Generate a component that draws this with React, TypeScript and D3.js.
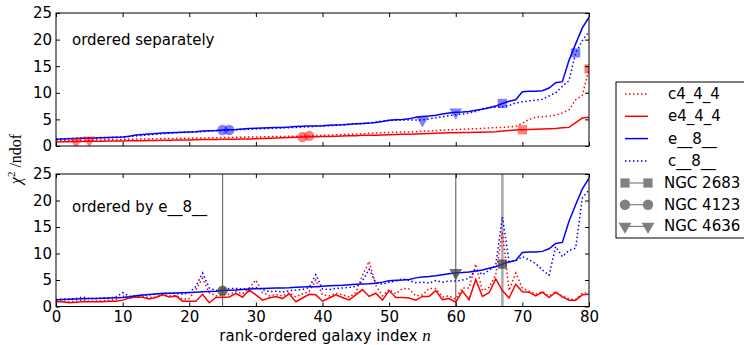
import { useEffect, useRef } from "react";
import {
  select,
  scaleLinear,
  line,
  axisLeft,
  axisRight,
  axisTop,
  axisBottom,
  symbol,
  symbolSquare,
  symbolCircle,
  symbolTriangle,
} from "d3";

// chi^2/ndof per galaxy, galaxies ranked by e__8__
const e8 = [
  1.25, 1.3, 1.35, 1.4, 1.45, 1.5, 1.5, 1.55, 1.6, 1.65,
  1.7, 1.85, 2.05, 2.15, 2.25, 2.35, 2.45, 2.5, 2.55, 2.6,
  2.65, 2.7, 2.8, 2.85, 2.9, 3.0, 3.05, 3.1, 3.2, 3.3,
  3.35, 3.4, 3.45, 3.5, 3.5, 3.55, 3.65, 3.7, 3.75, 3.75,
  3.8, 3.9, 3.95, 4.0, 4.1, 4.2, 4.25, 4.3, 4.4, 4.6,
  4.85, 4.95, 5.0, 5.1, 5.4, 5.55, 5.65, 5.8, 6.0, 6.2,
  6.35, 6.4, 6.5, 6.7, 6.9, 7.2, 7.5, 8.0, 8.4, 8.7,
  10.2, 10.3, 10.3, 10.4, 10.9, 11.9, 12.1, 16.1, 19.2, 22.2, 24.2,
];
const e4ByE8 = [
  0.9, 0.9, 0.7, 0.8, 0.9, 0.9, 0.9, 0.9, 1.0, 1.0,
  1.2, 1.6, 1.8, 1.75, 1.4, 1.7, 2.2, 1.8, 2.0, 1.0,
  1.0, 1.0, 2.3, 0.7, 1.7, 1.75, 1.8, 2.5, 1.75, 3.1,
  2.2, 1.2, 1.6, 1.9, 1.5, 2.4, 0.9, 1.6, 2.3, 2.2,
  1.0, 1.6, 2.2, 1.7, 1.25, 2.2, 3.2, 1.9, 2.5, 1.2,
  3.0, 1.7, 1.7, 1.6, 1.2, 1.9, 1.9, 3.0, 1.3, 1.5,
  0.8, 2.9, 1.3, 5.1, 1.9, 2.6, 5.2, 3.0, 1.6, 4.2,
  2.8, 2.7, 2.0, 2.7, 1.7, 2.7, 1.8, 1.2, 1.2, 2.2, 2.3,
];
const c4ByE8 = [
  1.1, 1.0, 0.9, 1.0, 1.2, 1.0, 1.0, 1.1, 1.2, 1.3,
  2.0, 1.6, 1.8, 1.9, 1.7, 1.8, 2.3, 2.0, 2.1, 1.4,
  1.5, 3.2, 5.3, 2.6, 2.0, 2.2, 2.3, 2.8, 2.4, 3.5,
  5.0, 2.6, 2.0, 2.3, 2.0, 2.6, 1.8, 2.4, 2.8, 5.0,
  2.2, 2.0, 2.5, 2.2, 1.8, 2.6, 5.9, 8.5, 4.0, 2.0,
  3.2, 2.4, 3.4, 3.3, 2.0, 2.2, 3.4, 3.4, 1.8, 2.0,
  1.4, 3.5, 3.5, 8.0, 3.0, 3.6, 6.0, 14.1, 3.0, 6.3,
  3.5, 2.9, 2.3, 2.8, 2.0, 2.7, 2.0, 1.4, 1.3, 2.5, 2.6,
];
const c8ByE8 = [
  1.3, 1.4, 1.4, 1.5, 1.8, 1.5, 1.5, 1.6, 1.6, 1.8,
  2.6, 1.9, 2.0, 2.1, 2.2, 2.4, 2.5, 2.5, 2.5, 2.3,
  2.6, 3.8, 6.3, 3.5, 3.0, 3.2, 3.4, 3.4, 3.3, 3.4,
  3.6, 3.2, 2.8, 2.9, 2.7, 3.0, 3.1, 3.2, 3.6, 6.0,
  3.3, 3.2, 3.4, 3.5, 3.6, 3.8, 4.8, 7.0, 4.5, 4.2,
  4.6, 4.8, 5.2, 4.9, 4.5, 4.6, 4.4, 4.9, 4.6, 4.8,
  4.8, 5.0, 5.3, 7.0, 6.0, 6.8, 7.8, 16.9, 8.5, 8.6,
  9.4, 8.8, 8.1, 6.9, 5.9, 11.3, 9.4, 10.6, 11.0, 20.5, 22.0,
];

// each series ranked on its own
const e4Sorted = [
  0.75, 0.8, 0.8, 0.85, 0.85, 0.9, 0.9, 0.9, 0.92, 0.95,
  0.95, 1.0, 1.0, 1.0, 1.02, 1.05, 1.08, 1.1, 1.12, 1.15,
  1.15, 1.18, 1.2, 1.2, 1.22, 1.25, 1.25, 1.28, 1.3, 1.3,
  1.35, 1.4, 1.45, 1.5, 1.55, 1.6, 1.65, 1.7, 1.75, 1.75,
  1.78, 1.8, 1.85, 1.9, 1.92, 1.95, 2.0, 2.0, 2.02, 2.05,
  2.1, 2.15, 2.2, 2.2, 2.25, 2.3, 2.35, 2.4, 2.45, 2.5,
  2.5, 2.55, 2.55, 2.6, 2.6, 2.65, 2.7, 2.8, 2.9, 3.0,
  3.05, 3.1, 3.15, 3.2, 3.25, 3.3, 3.45, 3.5, 4.4, 5.25, 5.4,
];
const c4Sorted = [
  1.0, 1.0, 1.05, 1.05, 1.1, 1.1, 1.15, 1.15, 1.2, 1.2,
  1.25, 1.25, 1.3, 1.3, 1.35, 1.35, 1.4, 1.4, 1.42, 1.45,
  1.45, 1.5, 1.5, 1.55, 1.55, 1.6, 1.6, 1.65, 1.65, 1.7,
  1.7, 1.72, 1.75, 1.78, 1.8, 1.82, 1.85, 1.85, 1.9, 1.95,
  2.0, 2.05, 2.1, 2.15, 2.2, 2.25, 2.3, 2.4, 2.45, 2.5,
  2.55, 2.6, 2.62, 2.65, 2.7, 2.8, 2.85, 2.9, 3.0, 3.05,
  3.1, 3.15, 3.2, 3.25, 3.3, 3.4, 3.45, 3.5, 3.6, 3.7,
  4.3, 5.0, 5.4, 5.5, 5.6, 5.8, 6.2, 6.8, 8.7, 9.5, 14.5,
];
const c8Sorted = [
  1.3, 1.35, 1.4, 1.45, 1.5, 1.5, 1.55, 1.6, 1.6, 1.65,
  1.7, 1.8, 1.9, 2.0, 2.1, 2.2, 2.3, 2.4, 2.5, 2.55,
  2.6, 2.65, 2.7, 2.8, 2.85, 2.9, 3.0, 3.05, 3.1, 3.15,
  3.2, 3.25, 3.3, 3.35, 3.4, 3.45, 3.5, 3.55, 3.6, 3.7,
  3.75, 3.8, 3.9, 3.95, 4.05, 4.1, 4.2, 4.3, 4.5, 4.7,
  4.8, 4.85, 4.9, 4.9, 4.9, 4.9, 5.1, 5.3, 5.5, 5.7,
  5.9, 6.0, 6.2, 6.5, 7.0, 7.2, 7.3, 7.4, 7.6, 8.1,
  8.3, 8.5, 8.6, 8.8, 9.4, 10.0, 11.2, 12.3, 17.5, 19.8, 21.5,
];

const xTicks = [0, 10, 20, 30, 40, 50, 60, 70, 80];
const yTicks = [0, 5, 10, 15, 20, 25];

// highlighted galaxies and their rank in each separately ranked series
const galaxies = ["NGC 2683", "NGC 4123", "NGC 4636"];
const rankE8 = [67, 25, 60];
const rankC8 = [78, 26, 55];
const rankE4 = [70, 37, 3];
const rankC4 = [80, 38, 5];

const seriesNames = ["c4_4_4", "e4_4_4", "e__8__", "c__8__"];
const seriesColors = ["#ff0000", "#ff0000", "#0000ff", "#0000ff"];
const seriesDashed = [true, false, false, true];

const FONT = "DejaVu Sans, sans-serif";
const FS = 15;
const DOT = "1.5 2.5";

const markerShape = (i: number) => {
  const type = [symbolSquare, symbolCircle, symbolTriangle][i];
  const size = [85, 85, 72][i];
  return symbol().type(type).size(size)()!;
};
const markerRot = (i: number) => (i === 2 ? " rotate(180)" : "");

export default function App() {
  const svgRef = useRef<SVGSVGElement | null>(null);

  useEffect(() => {
    const svg = select(svgRef.current);
    svg.selectAll("*").remove();

    const x = scaleLinear().domain([0, 80]).range([56, 589]);
    const panels = [
      { y: scaleLinear().domain([0, 25]).range([146, 13]), label: "ordered separately", xLabels: false },
      { y: scaleLinear().domain([0, 25]).range([306.5, 174]), label: "ordered by e__8__", xLabels: true },
    ];

    panels.forEach((p, pi) => {
      const g = svg.append("g");
      const [yb, yt] = p.y.range();

      const clipId = `clip${pi}`;
      svg
        .append("clipPath")
        .attr("id", clipId)
        .append("rect")
        .attr("x", x(0))
        .attr("y", yt)
        .attr("width", x(80) - x(0))
        .attr("height", yb - yt);

      const plot = g.append("g").attr("clip-path", `url(#${clipId})`);

      // vertical lines for the highlighted galaxies (bottom panel)
      if (pi === 1) {
        rankE8.forEach((r, i) => {
          plot
            .append("line")
            .attr("x1", x(r))
            .attr("x2", x(r))
            .attr("y1", yt)
            .attr("y2", yb)
            .attr("stroke", i === 0 ? "#a8a8a8" : "#6e6e6e")
            .attr("stroke-width", i === 0 ? 2.5 : 1.2);
        });
      }

      const data =
        pi === 0
          ? [c4Sorted, e4Sorted, e8, c8Sorted]
          : [c4ByE8, e4ByE8, e8, c8ByE8];

      const lineGen = line<number>()
        .x((_, i) => x(i))
        .y((d) => p.y(d));

      data.forEach((vals, si) => {
        plot
          .append("path")
          .attr("d", lineGen(vals))
          .attr("fill", "none")
          .attr("stroke", seriesColors[si])
          .attr("stroke-width", 1.5)
          .attr("stroke-dasharray", seriesDashed[si] ? DOT : null);
      });

      // markers
      if (pi === 0) {
        const ranks = [rankC4, rankE4, rankE8, rankC8];
        ranks.forEach((rk, si) => {
          rk.forEach((r, gi) => {
            plot
              .append("path")
              .attr("d", markerShape(gi))
              .attr(
                "transform",
                `translate(${x(r)},${p.y(data[si][r])})${markerRot(gi)}`
              )
              .attr("fill", seriesColors[si])
              .attr("fill-opacity", 0.5);
          });
        });
      } else {
        rankE8.forEach((r, gi) => {
          plot
            .append("path")
            .attr("d", markerShape(gi))
            .attr("transform", `translate(${x(r)},${p.y(e8[r])})${markerRot(gi)}`)
            .attr("fill", "#404040")
            .attr("fill-opacity", 0.75);
        });
      }

      // frame
      g.append("rect")
        .attr("x", x(0))
        .attr("y", yt)
        .attr("width", x(80) - x(0))
        .attr("height", yb - yt)
        .attr("fill", "none")
        .attr("stroke", "#000")
        .attr("stroke-width", 1);

      // axes with inward ticks
      const left = g
        .append("g")
        .attr("transform", `translate(${x(0)},0)`)
        .call(axisLeft(p.y).tickValues(yTicks).tickSizeInner(-4).tickSizeOuter(0).tickPadding(4));
      const right = g
        .append("g")
        .attr("transform", `translate(${x(80)},0)`)
        .call(axisRight(p.y).tickValues(yTicks).tickSizeInner(-4).tickSizeOuter(0).tickFormat(() => ""));
      const top = g
        .append("g")
        .attr("transform", `translate(0,${yt})`)
        .call(axisTop(x).tickValues(xTicks).tickSizeInner(-4).tickSizeOuter(0).tickFormat(() => ""));
      const bottom = g
        .append("g")
        .attr("transform", `translate(0,${yb})`)
        .call(
          axisBottom(x)
            .tickValues(xTicks)
            .tickSizeInner(-4)
            .tickSizeOuter(0)
            .tickPadding(5)
            .tickFormat((d) => (p.xLabels ? String(d) : ""))
        );
      [left, right, top, bottom].forEach((a) => {
        a.select(".domain").remove();
        a.attr("font-family", FONT).attr("font-size", FS);
        a.selectAll("text").attr("fill", "#000");
        a.selectAll("line").attr("stroke", "#000");
      });

      g.append("text")
        .attr("x", 72)
        .attr("y", yt + (pi === 0 ? 32 : 38))
        .attr("font-family", FONT)
        .attr("font-size", FS)
        .text(p.label);
    });

    // x label
    const xl = svg
      .append("text")
      .attr("x", 325)
      .attr("y", 341)
      .attr("text-anchor", "middle")
      .attr("font-family", FONT)
      .attr("font-size", FS);
    xl.append("tspan").text("rank-ordered galaxy index ");
    xl.append("tspan")
      .attr("font-family", "Liberation Serif, serif")
      .attr("font-style", "italic")
      .attr("font-size", 17)
      .text("n");

    // y label
    const yl = svg
      .append("text")
      .attr("transform", "translate(21,159) rotate(-90)")
      .attr("text-anchor", "middle")
      .attr("font-family", "Liberation Serif, serif")
      .attr("font-size", 16);
    yl.append("tspan").attr("font-style", "italic").text("\u03c7");
    yl.append("tspan").attr("font-size", 11).attr("dy", -6).text("2");
    yl.append("tspan").attr("dy", 6).text(" /ndof");

    // legend
    const lg = svg.append("g");
    lg.append("rect")
      .attr("x", 616)
      .attr("y", 82)
      .attr("width", 150)
      .attr("height", 156)
      .attr("fill", "#fff")
      .attr("stroke", "#000");
    seriesNames.forEach((name, i) => {
      const cy = 94 + i * 22.3;
      lg.append("line")
        .attr("x1", 625)
        .attr("x2", 648)
        .attr("y1", cy)
        .attr("y2", cy)
        .attr("stroke", seriesColors[i])
        .attr("stroke-width", 1.5)
        .attr("stroke-dasharray", seriesDashed[i] ? DOT : null);
      lg.append("text")
        .attr("x", 668)
        .attr("y", cy + 5)
        .attr("font-family", FONT)
        .attr("font-size", FS)
        .text(name);
    });
    galaxies.forEach((name, i) => {
      const cy = 183 + i * 21.7;
      lg.append("line")
        .attr("x1", 625)
        .attr("x2", 648)
        .attr("y1", cy)
        .attr("y2", cy)
        .attr("stroke", "#808080")
        .attr("stroke-width", 1.2);
      [625, 648].forEach((mx) => {
        lg.append("path")
          .attr("d", markerShape(i))
          .attr("transform", `translate(${mx},${cy})${markerRot(i)}`)
          .attr("fill", "#808080");
      });
      lg.append("text")
        .attr("x", 664)
        .attr("y", cy + 5)
        .attr("font-family", FONT)
        .attr("font-size", FS)
        .text(name);
    });
  }, []);

  return (
    <svg
      ref={svgRef}
      width={744}
      height={345}
      style={{ position: "absolute", left: 0, top: 0, background: "#fff" }}
    />
  );
}
